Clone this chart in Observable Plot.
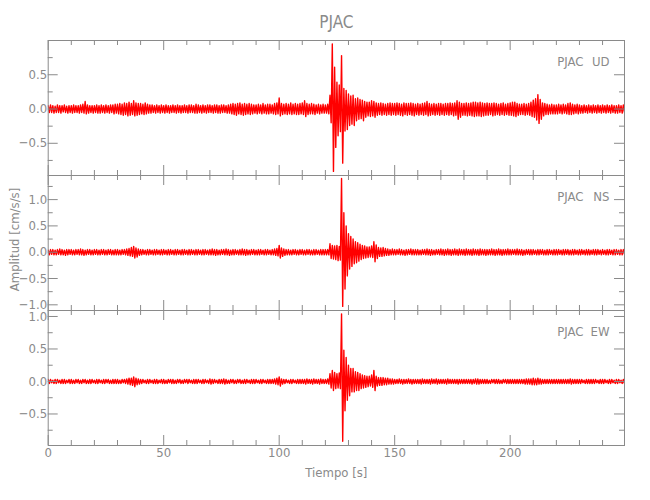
<!DOCTYPE html>
<html><head><meta charset="utf-8">
<script src="https://cdn.jsdelivr.net/npm/d3@7"></script>
<script src="https://cdn.jsdelivr.net/npm/@observablehq/plot@0.6"></script>
<style>
body{margin:0;background:#fff;}
#chart{position:relative;width:650px;height:500px;overflow:hidden;}
#chart svg{position:absolute;left:0;}
</style></head><body><div id="chart"></div>
<script>
// ---- texts ----
const station = "PJAC";
const components = ["UD", "NS", "EW"];
const xLabel = "Tiempo [s]";
const yLabel = "Amplitud [cm/s/s]";

// ---- axes ----
const xDomain = [0, 249.5];
const xMajor = [0, 50, 100, 150, 200];
const xMinor = [10, 20, 30, 40, 60, 70, 80, 90, 110, 120, 130, 140, 160, 170, 180, 190, 210, 220, 230, 240];
const yDomainUD = [-0.97, 1.0];
const yDomainNS = [-1.108, 1.458];
const yDomainEW = [-0.985, 1.092];
const yMajorUD = [-0.5, 0, 0.5];
const yMinorUD = [-0.75, -0.25, 0.25, 0.75];
const yMajorNS = [-1, -0.5, 0, 0.5, 1];
const yMinorNS = [-0.75, -0.25, 0.25, 0.75, 1.25];
const yMajorEW = [-0.5, 0, 0.5, 1];
const yMinorEW = [-0.75, -0.25, 0.25, 0.75];

// ---- seismogram envelopes: upper / lower amplitude per 1 s (cm/s/s) ----
const hiUD = [
.05,.06,.05,.04,.06,.05,.05,.06,.04,.05, .05,.06,.05,.05,.06,.07,.11,.06,.05,.05,
.05,.06,.05,.06,.05,.06,.05,.06,.06,.07, .07,.08,.07,.09,.08,.1,.08,.12,.09,.08,
.08,.07,.09,.07,.06,.06,.05,.06,.05,.06, .05,.06,.05,.05,.06,.05,.06,.05,.05,.06,
.05,.06,.06,.05,.07,.06,.05,.06,.05,.06, .06,.05,.06,.06,.05,.06,.06,.05,.06,.07,
.08,.07,.08,.09,.07,.08,.07,.08,.07,.06, .06,.07,.06,.08,.06,.07,.07,.06,.08,.09,
.16,.08,.07,.08,.07,.09,.07,.08,.07,.08, .09,.12,.08,.07,.08,.07,.06,.07,.06,.07,
.06,.07,.2,.95,.61,.39,.35,.78,.3,.27, .22,.19,.2,.15,.16,.14,.13,.11,.1,.1,
.12,.11,.09,.08,.09,.08,.07,.08,.09,.08, .08,.09,.08,.07,.09,.08,.08,.09,.08,.07,
.08,.07,.08,.09,.11,.08,.07,.08,.07,.08, .08,.07,.08,.08,.09,.08,.09,.12,.1,.08,
.08,.09,.08,.09,.1,.1,.09,.1,.09,.08, .09,.08,.08,.09,.08,.07,.08,.09,.07,.08,
.09,.1,.1,.08,.07,.07,.08,.07,.08,.1, .13,.15,.21,.14,.09,.08,.07,.06,.07,.06,
.06,.07,.06,.07,.06,.08,.09,.07,.06,.07, .06,.05,.06,.05,.06,.05,.06,.05,.06,.05,
.06,.05,.06,.05,.06,.05,.05,.06,.05,.06];
const loUD = [
-.05,-.05,-.06,-.05,-.05,-.06,-.04,-.05,-.06,-.05, -.06,-.05,-.05,-.06,-.05,-.06,-.07,-.06,-.05,-.06,
-.05,-.06,-.06,-.05,-.06,-.05,-.06,-.05,-.07,-.06, -.07,-.08,-.09,-.08,-.1,-.09,-.08,-.1,-.09,-.08,
-.07,-.08,-.07,-.06,-.06,-.05,-.06,-.05,-.06,-.05, -.06,-.05,-.06,-.05,-.05,-.06,-.05,-.06,-.05,-.05,
-.06,-.05,-.05,-.06,-.06,-.05,-.06,-.05,-.06,-.05, -.05,-.06,-.05,-.06,-.06,-.05,-.05,-.06,-.06,-.07,
-.08,-.09,-.07,-.08,-.09,-.08,-.07,-.08,-.07,-.06, -.07,-.06,-.07,-.06,-.07,-.07,-.06,-.07,-.08,-.07,
-.1,-.08,-.07,-.08,-.07,-.08,-.07,-.08,-.08,-.07, -.08,-.11,-.08,-.07,-.07,-.08,-.06,-.07,-.06,-.06,
-.06,-.07,-.2,-.91,-.56,-.39,-.33,-.79,-.32,-.3, -.24,-.22,-.24,-.17,-.15,-.14,-.17,-.12,-.1,-.11,
-.1,-.12,-.09,-.08,-.09,-.08,-.09,-.08,-.09,-.08, -.09,-.08,-.09,-.1,-.08,-.09,-.08,-.09,-.1,-.08,
-.09,-.08,-.09,-.08,-.1,-.09,-.08,-.09,-.08,-.09, -.08,-.09,-.08,-.09,-.08,-.1,-.09,-.15,-.12,-.09,
-.09,-.1,-.09,-.1,-.11,-.1,-.1,-.11,-.1,-.09, -.09,-.08,-.1,-.09,-.08,-.09,-.08,-.09,-.08,-.09,
-.09,-.1,-.11,-.09,-.08,-.08,-.09,-.08,-.09,-.11, -.12,-.16,-.21,-.15,-.1,-.08,-.08,-.07,-.07,-.07,
-.07,-.06,-.07,-.06,-.07,-.08,-.08,-.07,-.06,-.07, -.06,-.06,-.05,-.06,-.05,-.06,-.05,-.06,-.05,-.06,
-.05,-.06,-.05,-.06,-.05,-.06,-.06,-.05,-.06,-.05];

const hiNS = [
.04,.05,.05,.04,.05,.06,.05,.04,.05,.05, .05,.04,.05,.05,.06,.05,.04,.05,.05,.04,
.05,.05,.04,.05,.05,.04,.05,.05,.04,.05, .05,.04,.05,.05,.06,.07,.09,.11,.08,.06,
.05,.05,.04,.05,.05,.04,.05,.05,.04,.05, .05,.04,.05,.05,.04,.05,.05,.04,.05,.05,
.04,.05,.05,.04,.05,.05,.04,.05,.05,.04, .05,.06,.05,.05,.04,.05,.05,.06,.05,.04,
.05,.05,.04,.05,.06,.05,.05,.04,.05,.05, .04,.05,.05,.04,.05,.05,.04,.05,.06,.07,
.13,.08,.06,.05,.05,.04,.05,.05,.04,.05, .05,.04,.05,.05,.04,.05,.05,.04,.05,.05,
.05,.05,.16,.13,.12,.13,.11,1.4,.75,.5, .35,.3,.25,.2,.18,.15,.13,.12,.1,.1,
.12,.2,.14,.09,.08,.09,.07,.06,.05,.06, .05,.05,.06,.05,.04,.05,.05,.06,.05,.05,
.05,.04,.05,.05,.06,.05,.05,.04,.05,.05, .06,.05,.05,.06,.05,.05,.06,.05,.06,.05,
.05,.06,.05,.05,.06,.05,.05,.06,.05,.05, .05,.05,.06,.05,.05,.06,.05,.05,.05,.06,
.05,.05,.05,.06,.05,.05,.04,.05,.05,.05, .05,.04,.05,.05,.05,.04,.05,.05,.04,.05,
.05,.05,.04,.05,.05,.05,.04,.05,.05,.04, .05,.05,.04,.05,.05,.04,.05,.05,.05,.04,
.05,.04,.05,.05,.04,.05,.05,.04,.05,.05];
const loNS = [
-.05,-.04,-.05,-.05,-.04,-.05,-.05,-.06,-.05,-.04, -.05,-.05,-.04,-.05,-.05,-.06,-.05,-.04,-.05,-.05,
-.04,-.05,-.05,-.04,-.05,-.05,-.04,-.05,-.05,-.05, -.05,-.05,-.04,-.05,-.06,-.07,-.08,-.11,-.09,-.06,
-.05,-.04,-.05,-.05,-.04,-.05,-.05,-.04,-.05,-.05, -.04,-.05,-.05,-.04,-.05,-.05,-.04,-.05,-.05,-.04,
-.05,-.05,-.04,-.05,-.05,-.04,-.05,-.05,-.04,-.05, -.05,-.05,-.06,-.05,-.05,-.04,-.05,-.05,-.06,-.05,
-.05,-.04,-.05,-.05,-.05,-.06,-.05,-.05,-.04,-.05, -.05,-.05,-.04,-.05,-.05,-.04,-.05,-.05,-.06,-.07,
-.11,-.08,-.06,-.05,-.05,-.05,-.04,-.05,-.05,-.04, -.05,-.05,-.04,-.05,-.05,-.05,-.04,-.05,-.05,-.05,
-.05,-.05,-.12,-.13,-.14,-.16,-.15,-1.03,-.7,-.45, -.32,-.27,-.22,-.2,-.17,-.14,-.12,-.11,-.1,-.09,
-.1,-.18,-.12,-.08,-.08,-.07,-.06,-.06,-.05,-.05, -.05,-.04,-.05,-.05,-.06,-.05,-.04,-.05,-.05,-.05,
-.05,-.05,-.04,-.05,-.05,-.06,-.05,-.05,-.04,-.05, -.05,-.06,-.05,-.05,-.06,-.05,-.05,-.06,-.05,-.05,
-.06,-.05,-.05,-.06,-.05,-.05,-.06,-.05,-.05,-.06, -.05,-.05,-.05,-.06,-.05,-.05,-.06,-.05,-.05,-.05,
-.05,-.04,-.05,-.05,-.05,-.06,-.05,-.04,-.05,-.05, -.04,-.05,-.05,-.04,-.05,-.05,-.05,-.04,-.05,-.05,
-.05,-.04,-.05,-.05,-.04,-.05,-.05,-.05,-.04,-.05, -.05,-.04,-.05,-.05,-.05,-.04,-.05,-.05,-.04,-.05,
-.04,-.05,-.05,-.04,-.05,-.05,-.04,-.05,-.05,-.04];

const hiEW = [
.03,.03,.02,.03,.03,.02,.03,.03,.02,.03, .03,.02,.03,.03,.02,.03,.03,.02,.03,.03,
.02,.03,.03,.02,.03,.03,.03,.02,.03,.03, .03,.02,.03,.03,.04,.05,.05,.07,.05,.04,
.03,.03,.02,.03,.03,.02,.03,.03,.02,.03, .03,.02,.03,.03,.03,.02,.03,.03,.02,.03,
.03,.03,.02,.03,.03,.03,.02,.03,.03,.02, .04,.03,.03,.02,.03,.03,.04,.03,.02,.03,
.03,.02,.03,.03,.02,.03,.03,.02,.03,.03, .03,.02,.03,.03,.02,.03,.03,.03,.04,.05,
.07,.04,.03,.03,.02,.03,.03,.02,.03,.03, .03,.03,.04,.03,.03,.04,.03,.03,.04,.03,
.03,.04,.12,.17,.14,.12,.13,1.04,.48,.37, .25,.2,.2,.15,.14,.12,.1,.09,.08,.08,
.1,.17,.08,.06,.06,.06,.05,.05,.04,.04, .03,.03,.04,.03,.03,.03,.04,.03,.03,.03,
.03,.03,.04,.03,.03,.03,.04,.03,.04,.03, .03,.03,.03,.04,.03,.03,.03,.03,.03,.03,
.03,.03,.03,.03,.03,.04,.04,.03,.03,.03, .03,.02,.03,.03,.03,.03,.02,.03,.03,.03,
.03,.03,.03,.03,.03,.03,.03,.04,.04,.04, .05,.04,.05,.04,.03,.03,.03,.03,.03,.03,
.03,.03,.03,.03,.03,.03,.04,.03,.03,.03, .03,.03,.02,.03,.03,.03,.03,.03,.02,.03,
.03,.03,.02,.03,.03,.02,.03,.03,.02,.03];
const loEW = [
-.03,-.02,-.03,-.03,-.02,-.03,-.03,-.03,-.02,-.03, -.03,-.03,-.02,-.03,-.03,-.02,-.03,-.03,-.03,-.02,
-.03,-.03,-.02,-.03,-.03,-.02,-.03,-.03,-.03,-.03, -.03,-.03,-.02,-.03,-.04,-.05,-.06,-.08,-.05,-.04,
-.03,-.02,-.03,-.03,-.02,-.03,-.03,-.03,-.02,-.03, -.03,-.03,-.02,-.03,-.03,-.03,-.02,-.03,-.03,-.02,
-.03,-.02,-.03,-.03,-.03,-.02,-.03,-.03,-.02,-.03, -.04,-.03,-.02,-.03,-.03,-.03,-.04,-.03,-.03,-.02,
-.03,-.03,-.02,-.03,-.03,-.03,-.02,-.03,-.03,-.03, -.02,-.03,-.03,-.02,-.03,-.03,-.03,-.03,-.04,-.05,
-.07,-.04,-.03,-.02,-.03,-.03,-.02,-.03,-.03,-.03, -.03,-.04,-.03,-.03,-.04,-.03,-.03,-.04,-.03,-.03,
-.03,-.04,-.1,-.14,-.11,-.1,-.11,-.92,-.45,-.29, -.22,-.16,-.16,-.14,-.14,-.11,-.1,-.09,-.08,-.07,
-.09,-.14,-.07,-.06,-.06,-.05,-.05,-.04,-.04,-.04, -.03,-.03,-.03,-.04,-.03,-.03,-.03,-.04,-.03,-.03,
-.03,-.04,-.03,-.03,-.03,-.04,-.03,-.03,-.04,-.03, -.03,-.03,-.04,-.03,-.03,-.03,-.03,-.04,-.03,-.03,
-.03,-.03,-.03,-.04,-.03,-.04,-.04,-.03,-.03,-.03, -.03,-.03,-.02,-.03,-.03,-.03,-.03,-.02,-.03,-.03,
-.03,-.03,-.03,-.03,-.03,-.03,-.04,-.04,-.04,-.05, -.05,-.05,-.04,-.04,-.03,-.03,-.03,-.03,-.03,-.03,
-.03,-.03,-.03,-.03,-.03,-.03,-.04,-.03,-.03,-.03, -.03,-.02,-.03,-.03,-.03,-.03,-.03,-.02,-.03,-.03,
-.03,-.02,-.03,-.03,-.02,-.03,-.03,-.02,-.03,-.03];

// ---- styling ----
const RED = "#ff0000";
const GRAY = "#8a8a8a";
const FONT = "'Liberation Sans Narrow', 'DejaVu Sans Condensed', 'Liberation Sans', sans-serif";
const ML = 47.7, MR = 26, H = 135;
const W = 650 - ML - MR;

function panel(o) {
  const wave = [];
  o.hi.forEach((h, i) => { wave.push({t: i, v: h}); wave.push({t: i + 0.5, v: o.lo[i]}); });
  const marks = [
    Plot.line(wave, {x: "t", y: "v", stroke: RED, strokeWidth: 1.4, clip: true}),
    Plot.frame({stroke: GRAY}),
    // ticks pointing inward on four sides
    Plot.tickY(o.yMajor, {y: d => d, stroke: GRAY, insetRight: W - 10}),
    Plot.tickY(o.yMinor, {y: d => d, stroke: GRAY, insetRight: W - 5}),
    Plot.tickY(o.yMajor, {y: d => d, stroke: GRAY, insetLeft: W - 10}),
    Plot.tickY(o.yMinor, {y: d => d, stroke: GRAY, insetLeft: W - 5}),
    Plot.tickX(xMajor, {x: d => d, stroke: GRAY, insetBottom: H - 10}),
    Plot.tickX(xMinor, {x: d => d, stroke: GRAY, insetBottom: H - 5}),
    Plot.tickX(xMajor, {x: d => d, stroke: GRAY, insetTop: H - 10}),
    Plot.tickX(xMinor, {x: d => d, stroke: GRAY, insetTop: H - 5}),
    Plot.axisY(o.yMajor, {tickSize: 0, tickPadding: 1, tickFormat: d3.format(".1f"), fontSize: 13, label: null}),
    Plot.text([station], {text: d => d, frameAnchor: "top-right", dx: -41, dy: 21, textAnchor: "end", lineAnchor: "middle", fill: GRAY, fontSize: 13}),
    Plot.text([o.comp], {text: d => d, frameAnchor: "top-right", dx: -15, dy: 21, textAnchor: "end", lineAnchor: "middle", fill: GRAY, fontSize: 13})
  ];
  if (o.extra) marks.push(...o.extra);
  const svg = Plot.plot({
    width: 650,
    height: o.marginTop + H + o.marginBottom,
    marginLeft: ML, marginRight: MR, marginTop: o.marginTop, marginBottom: o.marginBottom,
    x: {domain: xDomain, axis: null},
    y: {domain: o.yDomain, axis: null},
    style: {background: "transparent", fontFamily: FONT, fontSize: "13px", color: GRAY, overflow: "visible"},
    marks
  });
  svg.style.top = o.top + "px";
  document.getElementById("chart").appendChild(svg);
}

panel({top: 0, marginTop: 40, marginBottom: 5, hi: hiUD, lo: loUD, yDomain: yDomainUD,
  yMajor: yMajorUD, yMinor: yMinorUD, comp: components[0],
  extra: [Plot.text([station], {text: d => d, frameAnchor: "top", dy: -18, textAnchor: "middle", lineAnchor: "middle", fill: GRAY, fontSize: 17})]});

panel({top: 165, marginTop: 10, marginBottom: 5, hi: hiNS, lo: loNS, yDomain: yDomainNS,
  yMajor: yMajorNS, yMinor: yMinorNS, comp: components[1],
  extra: [Plot.text([yLabel], {text: d => d, frameAnchor: "left", rotate: -90, dx: -33, dy: -3.5, textAnchor: "middle", lineAnchor: "middle", fill: GRAY, fontSize: 13})]});

panel({top: 300, marginTop: 10, marginBottom: 55, hi: hiEW, lo: loEW, yDomain: yDomainEW,
  yMajor: yMajorEW, yMinor: yMinorEW, comp: components[2],
  extra: [
    Plot.axisX(xMajor, {tickSize: 0, tickPadding: 2, tickFormat: d3.format("d"), fontSize: 13, label: null}),
    Plot.text([xLabel], {text: d => d, frameAnchor: "bottom", dy: 27, textAnchor: "middle", lineAnchor: "middle", fill: GRAY, fontSize: 13})
  ]});
</script></body></html>
